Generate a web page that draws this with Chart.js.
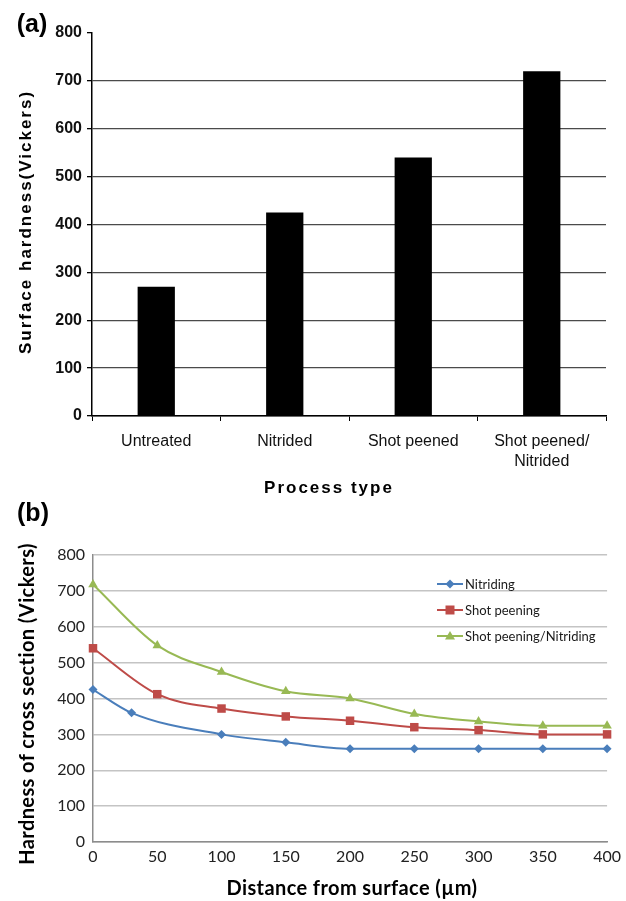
<!DOCTYPE html>
<html>
<head>
<meta charset="utf-8">
<script src="https://cdn.jsdelivr.net/npm/chart.js@4.4.1/dist/chart.umd.min.js"></script>
<style>
  html, body { margin: 0; padding: 0; background: #fff; }
  #wrap { position: relative; width: 626px; height: 901px; overflow: hidden; }
  canvas { position: absolute; left: 0; }
  .lbl { position: absolute; white-space: nowrap; color: #000; line-height: 1; }
  .rot { transform: translate(-50%, -50%) rotate(-90deg); }
  .ctr { transform: translate(-50%, -50%); }
</style>
</head>
<body>
<div id="wrap">
  <canvas id="chartA" width="626" height="500" style="top:0"></canvas>
  <canvas id="chartB" width="626" height="401" style="top:500px"></canvas>

  <!-- titres du panneau (a) -->
  <div class="lbl ctr" style="left:32px; top:23px; font:bold 25px 'Liberation Sans';">(a)</div>
  <div class="lbl rot" style="left:26px; top:222px; font:bold 17px 'Liberation Sans'; letter-spacing:2px;">Surface hardness(Vickers)</div>
  <div class="lbl ctr" style="left:329px; top:488px; font:bold 17px 'Liberation Sans'; letter-spacing:2px;">Process type</div>

  <!-- titres du panneau (b) -->
  <div class="lbl ctr" style="left:33px; top:512px; font:bold 25px 'Liberation Sans';">(b)</div>
  <div class="lbl rot" style="left:26px; top:704px; font:bold 20px Lato; letter-spacing:0.4px;">Hardness of cross section (Vickers)</div>
  <div class="lbl ctr" style="left:352px; top:887px; font:bold 20px Lato; letter-spacing:0.4px;">Distance from surface (µm)</div>
</div>

<script>
// ---- données (a) : dureté de surface ----
const processTypes = ['Untreated', 'Nitrided', 'Shot peened', ['Shot peened/', 'Nitrided']];
const surfaceHardness = [270, 425, 540, 720];

// ---- données (b) : profils de dureté ----
const seriesNames = ['Nitriding', 'Shot peening', 'Shot peening/Nitriding'];
const distNitriding = [0, 30, 100, 150, 200, 250, 300, 350, 400];
const hvNitriding = [425, 360, 300, 278, 260, 260, 260, 260, 260];
const distPeening = [0, 50, 100, 150, 200, 250, 300, 350, 400];
const hvPeening = [540, 412, 372, 350, 338, 320, 312, 300, 300];
const hvPeenNitr = [718, 548, 474, 420, 400, 357, 336, 324, 324];

const toPoints = (xs, ys) => xs.map((x, i) => ({ x: x, y: ys[i] }));

// ========================================================
// GRAPHIQUE (a) : barres
// ========================================================
new Chart(document.getElementById('chartA'), {
    type: 'bar',
    data: {
        labels: processTypes,
        datasets: [{
            data: surfaceHardness,
            backgroundColor: '#000',
            borderWidth: 0,
            barPercentage: 0.29,
            categoryPercentage: 1
        }]
    },
    options: {
        responsive: false,
        animation: false,
        layout: { padding: { top: 33, right: 20, left: 0, bottom: 0 } },
        plugins: { legend: { display: false }, tooltip: { enabled: false } },
        scales: {
            x: {
                afterFit: (s) => { s.height = 84; },
                grid: { display: true, drawOnChartArea: false, offset: true, tickLength: 5, tickColor: '#000' },
                border: { display: true, color: '#000', width: 1.5 },
                ticks: {
                    font: { family: 'Liberation Sans', size: 16, lineHeight: 1.25 },
                    color: '#111', padding: 11, maxRotation: 0, autoSkip: false
                }
            },
            y: {
                min: 0, max: 800,
                afterFit: (s) => { s.width = 92; },
                grid: {
                    color: (c) => (c.tick && c.tick.value === 800) ? 'rgba(0,0,0,0)' : '#4a4a4a',
                    lineWidth: 1.3, tickLength: 5, tickColor: '#000'
                },
                border: { display: true, color: '#000', width: 1.5 },
                ticks: {
                    stepSize: 100,
                    font: { family: 'Liberation Sans', size: 16, weight: 'bold' },
                    color: '#111', padding: 5
                }
            }
        }
    }
});

// ========================================================
// GRAPHIQUE (b) : courbes lissées
// ========================================================
function drawMarker(ctx, style, x, y) {
    ctx.beginPath();
    if (style === 'rectRot') {
        ctx.moveTo(x, y - 4.5); ctx.lineTo(x + 4.5, y); ctx.lineTo(x, y + 4.5); ctx.lineTo(x - 4.5, y);
    } else if (style === 'rect') {
        ctx.rect(x - 4.5, y - 4.5, 9, 9);
    } else {
        ctx.moveTo(x, y - 5); ctx.lineTo(x + 5, y + 3.5); ctx.lineTo(x - 5, y + 3.5);
    }
    ctx.closePath();
    ctx.fill();
}

const legendInside = {
    id: 'legendInside',
    afterDraw(chart) {
        const ctx = chart.ctx;
        const x0 = 437, y0 = 84, gap = 26;
        chart.data.datasets.forEach((ds, i) => {
            const y = y0 + i * gap;
            ctx.save();
            ctx.strokeStyle = ds.borderColor;
            ctx.fillStyle = ds.backgroundColor;
            ctx.lineWidth = 2;
            ctx.beginPath();
            ctx.moveTo(x0, y);
            ctx.lineTo(x0 + 26, y);
            ctx.stroke();
            drawMarker(ctx, ds.pointStyle, x0 + 13, y);
            ctx.fillStyle = '#1a1a1a';
            ctx.font = '13px Lato';
            ctx.textBaseline = 'middle';
            ctx.fillText(ds.label, x0 + 28, y + 1);
            ctx.restore();
        });
    }
};

const couleurs = ['#4a7ebb', '#be4b48', '#98b954'];
const styles = ['rectRot', 'rect', 'triangle'];
const rayons = [4.5, 6, 5.5];
const series = [
    toPoints(distNitriding, hvNitriding),
    toPoints(distPeening, hvPeening),
    toPoints(distPeening, hvPeenNitr)
];

new Chart(document.getElementById('chartB'), {
    type: 'line',
    data: {
        datasets: series.map((pts, i) => ({
            label: seriesNames[i],
            data: pts,
            borderColor: couleurs[i],
            backgroundColor: couleurs[i],
            borderWidth: 2,
            cubicInterpolationMode: 'monotone',
            pointStyle: styles[i],
            pointRadius: rayons[i],
            pointBorderWidth: 0,
            clip: false
        }))
    },
    options: {
        responsive: false,
        animation: false,
        layout: { padding: { top: 55, right: 16, left: 0, bottom: 0 } },
        plugins: { legend: { display: false }, tooltip: { enabled: false } },
        scales: {
            x: {
                type: 'linear', min: 0, max: 400,
                afterFit: (s) => { s.height = 59; },
                grid: { display: false, drawTicks: false },
                border: { display: true, color: '#8c8c8c', width: 1.5 },
                ticks: { stepSize: 50, font: { family: 'Lato', size: 16 }, color: '#222', padding: 5 }
            },
            y: {
                min: 0, max: 800,
                afterFit: (s) => { s.width = 93; },
                grid: { color: '#c4c4c4', lineWidth: 1.5, drawTicks: false },
                border: { display: true, color: '#8c8c8c', width: 1.5 },
                ticks: { stepSize: 100, font: { family: 'Lato', size: 16 }, color: '#222', padding: 8 }
            }
        }
    },
    plugins: [legendInside]
});
</script>
</body>
</html>
